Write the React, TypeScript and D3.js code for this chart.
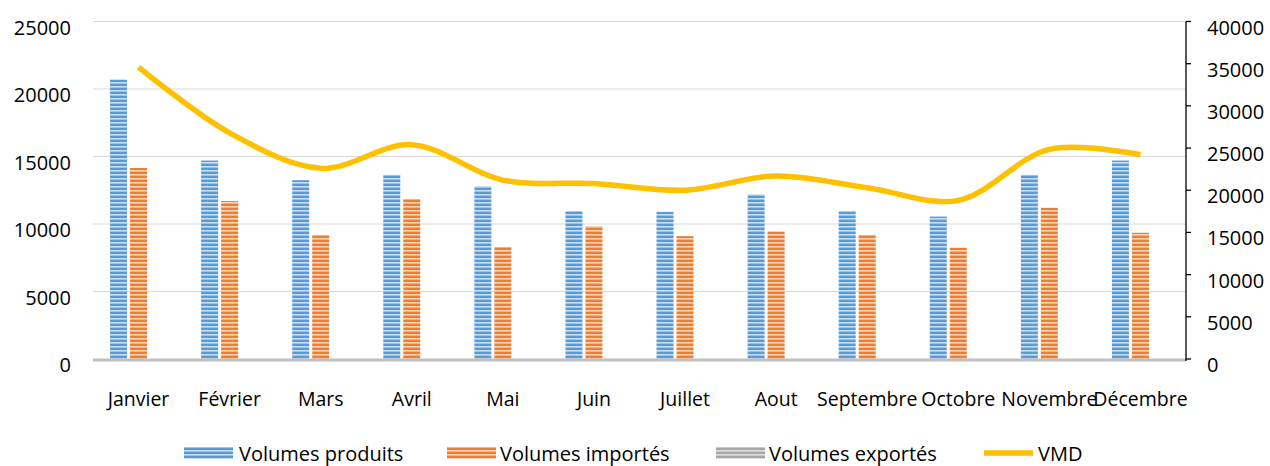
import React from "react";
import * as d3 from "d3";

const months = ["Janvier", "Février", "Mars", "Avril", "Mai", "Juin", "Juillet", "Aout", "Septembre", "Octobre", "Novembre", "Décembre"];
const volumesProduits = [20700, 14700, 13250, 13650, 12800, 10950, 10900, 12200, 10950, 10550, 13650, 14700];
const volumesImportes = [14150, 11700, 9200, 11850, 8300, 9850, 9100, 9450, 9200, 8250, 11200, 9350];
const volumesExportes = [0, 0, 0, 0, 0, 0, 0, 0, 0, 0, 0, 0];
const vmd = [34600, 26800, 22600, 25400, 21200, 20800, 20000, 21700, 20300, 18800, 24850, 24200];
const leftTicks = [0, 5000, 10000, 15000, 20000, 25000];
const rightTicks = [0, 5000, 10000, 15000, 20000, 25000, 30000, 35000, 40000];
const seriesNames = ["Volumes produits", "Volumes importés", "Volumes exportés"];

const W = 1270, H = 466;
const plotLeft = 93, plotRight = 1186, plotTop = 21.5, plotBottom = 359;
const FONT = "'Open Sans', 'Liberation Sans', sans-serif";

const patterns = [
  { id: "pBlue", c: ["#5b9bd5", "#5b9bd5", "#c9ddf1", "#9dc3e6"] },
  { id: "pOrange", c: ["#ed7d31", "#ed7d31", "#fad3b8", "#f4b183"] },
  { id: "pGray", c: ["#a5a5a5", "#a5a5a5", "#e0e0e0", "#c9c9c9"] },
];

export default function App() {
  const x0 = d3.scaleBand<string>().domain(months).range([plotLeft, plotRight]).paddingInner(0.374).paddingOuter(0.187);
  const x1 = d3.scaleBand<string>().domain(seriesNames).range([0, x0.bandwidth()]).paddingInner(0.15);
  const yL = d3.scaleLinear().domain([0, 25000]).range([plotBottom, plotTop]);
  const yR = d3.scaleLinear().domain([0, 40000]).range([plotBottom, plotTop]);
  const seriesData = [volumesProduits, volumesImportes, volumesExportes];

  const line = d3
    .line<number>()
    .x((_, i) => (x0(months[i]) as number) + x0.bandwidth() / 2)
    .y((d) => yR(d))
    .curve(d3.curveCatmullRom.alpha(0.5));

  const legendItems = [
    { type: "bar", fill: "url(#pBlue)", label: seriesNames[0], x: 184, tx: 239 },
    { type: "bar", fill: "url(#pOrange)", label: seriesNames[1], x: 447, tx: 500 },
    { type: "bar", fill: "url(#pGray)", label: seriesNames[2], x: 716, tx: 769 },
    { type: "line", fill: "#ffc000", label: "VMD", x: 984, tx: 1038 },
  ];
  const legY = 453;

  return (
    <svg width={W} height={H} style={{ position: "absolute", left: 0, top: 0, background: "#fff" }} fontFamily={FONT}>
      <defs>
        {patterns.map((p) => (
          <pattern key={p.id} id={p.id} patternUnits="userSpaceOnUse" width={4} height={4}>
            {p.c.map((c, i) => (
              <rect key={i} x={0} y={i} width={4} height={1} fill={c} />
            ))}
          </pattern>
        ))}
      </defs>
      <rect x={0} y={0} width={W} height={H} fill="#fff" />
      {leftTicks.filter((t) => t > 0).map((t) => (
        <line key={t} x1={plotLeft} x2={plotRight} y1={yL(t)} y2={yL(t)} stroke="#d9d9d9" strokeWidth={1.2} />
      ))}
      {leftTicks.map((t) => (
        <text key={t} x={71} y={yL(t) + 5.5} textAnchor="end" dominantBaseline="central" fontSize={20} fill="#000">
          {t}
        </text>
      ))}
      {seriesData.map((arr, si) =>
        arr.map((v, i) => {
          const bx = (x0(months[i]) as number) + (x1(seriesNames[si]) as number);
          return (
            <rect key={si + "-" + i} x={bx} y={yL(v)} width={x1.bandwidth()} height={plotBottom - yL(v)} fill={`url(#${patterns[si].id})`} />
          );
        })
      )}
      <line x1={plotLeft} x2={plotRight} y1={plotBottom + 1} y2={plotBottom + 1} stroke="#bfbfbf" strokeWidth={3} />
      <line x1={plotRight} x2={plotRight} y1={plotTop} y2={plotBottom + 2} stroke="#000" strokeWidth={1.3} />
      {rightTicks.map((t) => (
        <g key={t}>
          <line x1={plotRight} x2={plotRight + 5} y1={yR(t)} y2={yR(t)} stroke="#000" strokeWidth={1.3} />
          <text x={1207} y={yR(t) + 5.5} textAnchor="start" dominantBaseline="central" fontSize={20} fill="#000">
            {t}
          </text>
        </g>
      ))}
      <path d={line(vmd) || ""} fill="none" stroke="#ffc000" strokeWidth={5.5} strokeLinejoin="round" />
      {months.map((m) => (
        <text key={m} x={(x0(m) as number) + x0.bandwidth() / 2} y={398} textAnchor="middle" dominantBaseline="central" fontSize={19.5} fill="#000">
          {m}
        </text>
      ))}
      {legendItems.map((it) => (
        <g key={it.label}>
          {it.type === "bar" ? (
            <rect x={it.x} y={legY - 6} width={49} height={12} fill={it.fill} />
          ) : (
            <line x1={it.x} x2={it.x + 49} y1={legY} y2={legY} stroke={it.fill} strokeWidth={5.5} />
          )}
          <text x={it.tx} y={legY} dominantBaseline="central" fontSize={20} fill="#000">
            {it.label}
          </text>
        </g>
      ))}
    </svg>
  );
}
